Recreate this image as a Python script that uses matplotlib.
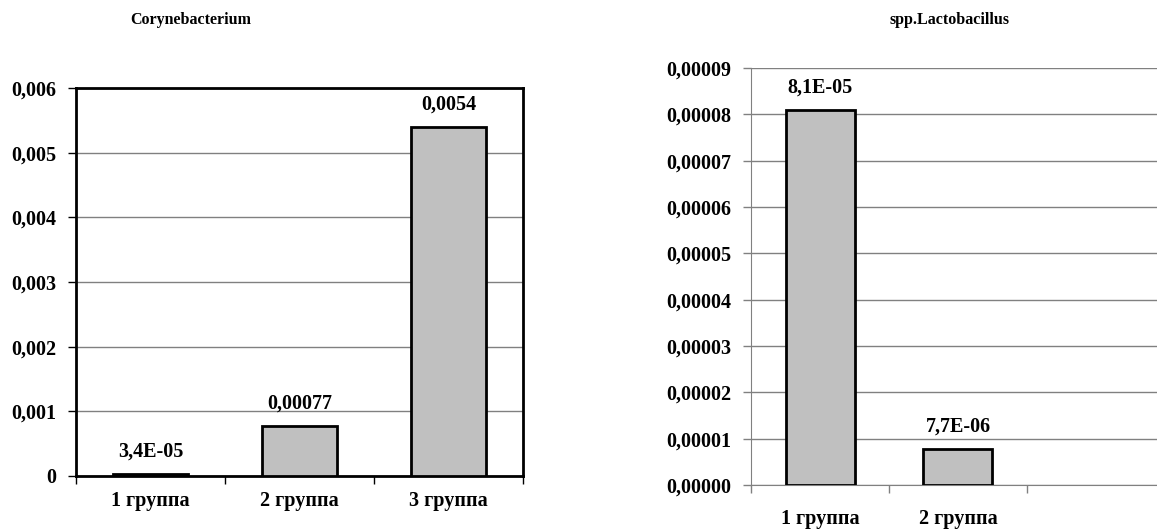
import matplotlib
matplotlib.use("Agg")
import matplotlib.pyplot as plt
from matplotlib.ticker import FuncFormatter

# данные
groups_left = ["1 группа", "2 группа", "3 группа"]
coryne = [0.000034, 0.00077, 0.0054]
coryne_labels = ["3,4E-05", "0,00077", "0,0054"]

groups_right = ["1 группа", "2 группа", ""]
lacto = [0.000081, 0.0000077]
lacto_labels = ["8,1E-05", "7,7E-06"]

plt.rcParams['font.family'] = ['Liberation Serif', 'DejaVu Serif']
plt.rcParams['font.weight'] = 'bold'

BAR = '#c0c0c0'
GRID = '#808080'
FS = 14.5

fig = plt.figure(figsize=(11.57, 5.29), dpi=100)

# --- левый график ---
ax1 = fig.add_axes([0.0657, 0.1002, 0.3863, 0.7335])
x1 = range(len(groups_left))
ax1.bar(x1, coryne, width=0.5, color=BAR, edgecolor='black', linewidth=2, zorder=3)
for i, v in enumerate(coryne):
    ax1.annotate(coryne_labels[i], (i, v), xytext=(0, 9), textcoords='offset points',
                 ha='center', va='bottom', fontsize=FS, fontweight='bold')
ax1.set_xlim(-0.5, 2.5)
ax1.set_ylim(0, 0.006)
ax1.set_yticks([0, 0.001, 0.002, 0.003, 0.004, 0.005, 0.006])
ax1.yaxis.set_major_formatter(FuncFormatter(lambda v, p: "0" if v == 0 else ("%.3f" % v).replace('.', ',')))
ax1.set_xticks([-0.5, 0.5, 1.5, 2.5])
ax1.set_xticklabels([])
ax1.set_xticks(list(x1), minor=True)
ax1.set_xticklabels(groups_left, minor=True)
ax1.tick_params(axis='x', which='minor', length=0, pad=11, labelsize=FS)
ax1.tick_params(axis='x', which='major', length=6, width=1, direction='out')
ax1.tick_params(axis='y', length=6, width=1, pad=8, labelsize=FS)
ax1.grid(axis='y', color=GRID, linewidth=1, zorder=0)
for s in ax1.spines.values():
    s.set_linewidth(2)
fig.text(191 / 1157, 1 - 20 / 529, "Corynebacterium", ha='center', va='center',
         fontsize=11.5, fontweight='bold')

# --- правый график ---
ax2 = fig.add_axes([0.6491, 0.0832, 0.3578, 0.7883])
x2 = range(len(lacto))
ax2.bar(x2, lacto, width=0.5, color=BAR, edgecolor='black', linewidth=2, zorder=3)
for i, v in enumerate(lacto):
    ax2.annotate(lacto_labels[i], (i, v), xytext=(0, 9), textcoords='offset points',
                 ha='center', va='bottom', fontsize=FS, fontweight='bold')
ax2.set_xlim(-0.5, 2.5)
ax2.set_ylim(0, 0.00009)
ax2.set_yticks([i * 0.00001 for i in range(10)])
ax2.yaxis.set_major_formatter(FuncFormatter(lambda v, p: ("%.5f" % v).replace('.', ',')))
ax2.set_xticks([-0.5, 0.5, 1.5, 2.5])
ax2.set_xticklabels([])
ax2.set_xticks(range(len(groups_right)), minor=True)
ax2.set_xticklabels(groups_right, minor=True)
ax2.tick_params(axis='x', which='minor', length=0, pad=17, labelsize=FS)
ax2.tick_params(axis='x', which='major', length=6, width=1, color=GRID, direction='out')
ax2.tick_params(axis='y', length=6, width=1, color=GRID, pad=8, labelsize=FS)
ax2.grid(axis='y', color=GRID, linewidth=1, zorder=0)
ax2.spines['top'].set_visible(False)
ax2.spines['right'].set_visible(False)
ax2.spines['left'].set_color(GRID)
ax2.spines['bottom'].set_color(GRID)
fig.text(950 / 1157, 1 - 20 / 529, "spp.Lactobacillus", ha='center', va='center',
         fontsize=11.5, fontweight='bold')

fig.savefig("out.png", dpi=100)
